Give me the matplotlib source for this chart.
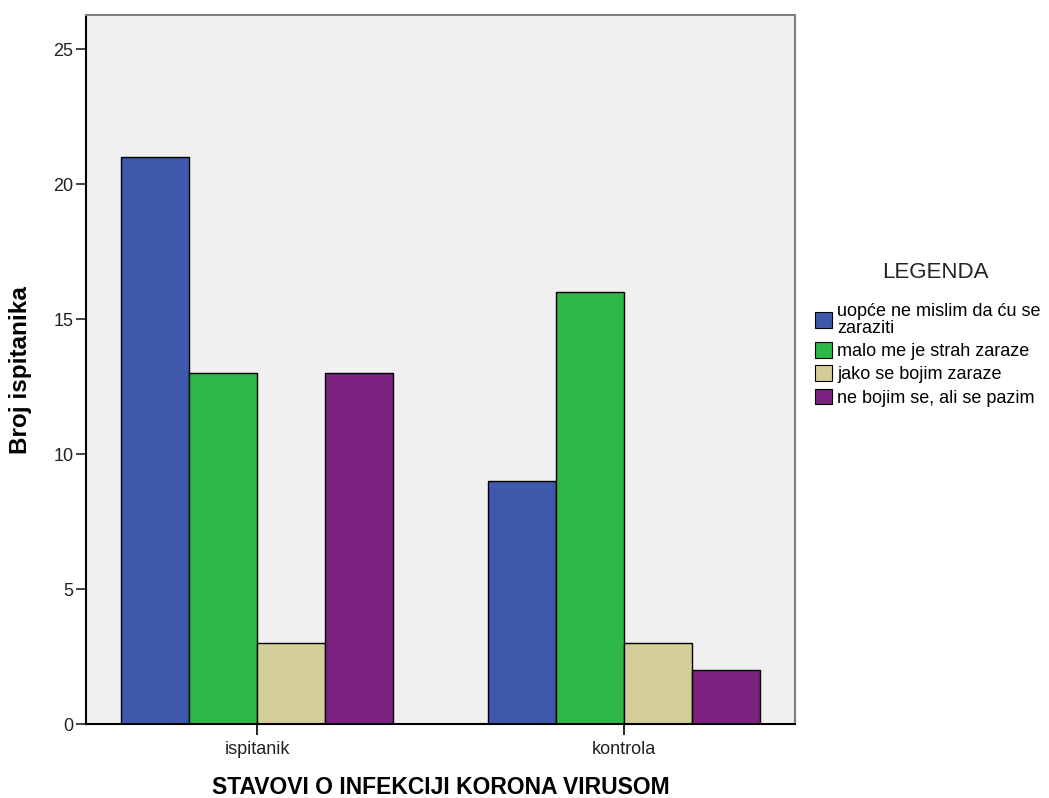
import numpy as np
import matplotlib.pyplot as plt

plt.rcParams['font.family'] = ['Liberation Sans', 'DejaVu Sans']

groups = ['ispitanik', 'kontrola']
categories = ['uopće ne mislim da ću se\nzaraziti', 'malo me je strah zaraze',
              'jako se bojim zaraze', 'ne bojim se, ali se pazim']
values = [[21, 9],   # uopće ne mislim
          [13, 16],  # malo me je strah
          [3, 3],    # jako se bojim
          [13, 2]]   # ne bojim se
colors = ['#3E58AC', '#2EB848', '#D3CE97', '#7B2281']

fig = plt.figure(figsize=(10.49, 7.98), dpi=100)
ax = fig.add_axes([0.082, 0.0927, 0.676, 0.888])
ax.set_facecolor('#F0F0F0')

x = np.arange(len(groups))
w = 0.1853
for i, (vals, c) in enumerate(zip(values, colors)):
    ax.bar(x + (i - 1.5) * w, vals, w, color=c, edgecolor='black', linewidth=1.0,
           label=categories[i], zorder=2)

ax.set_xlim(-0.466, 1.466)
ax.set_ylim(0, 26.26)
ax.set_yticks([0, 5, 10, 15, 20, 25])
ax.set_xticks(x)
ax.set_xticklabels(groups, fontsize=13, color='#222222')
ax.tick_params(axis='y', labelsize=13, colors='#222222', length=7, width=1.2,
               direction='out', pad=2)
ax.tick_params(axis='x', length=8, width=1.2, direction='out', pad=4)
for s in ['left', 'bottom']:
    ax.spines[s].set_linewidth(1.5)
for s in ['top', 'right']:
    ax.spines[s].set_color('#808080')
    ax.spines[s].set_linewidth(1.5)

ax.set_ylabel('Broj ispitanika', fontsize=17.5, fontweight='bold', va='center')
ax.yaxis.set_label_coords(-0.093, 0.5)
ax.set_xlabel('STAVOVI O INFEKCIJI KORONA VIRUSOM', fontsize=16.5, fontweight='bold',
              va='center')
ax.xaxis.set_label_coords(0.5, -0.09)

# legenda
fig.text(935 / 1049, 1 - 272 / 798, 'LEGENDA', fontsize=16, color='#222222',
         ha='center', va='center')
leg = fig.legend(*ax.get_legend_handles_labels(), loc='upper left',
                 bbox_to_anchor=(0.777, 0.620), frameon=False, fontsize=13,
                 handlelength=0.95, handleheight=0.95,
                 handletextpad=0.28, labelspacing=0.3, borderpad=0, borderaxespad=0)
leg.get_texts()[0].set_linespacing(0.95)
for h in leg.legend_handles:
    h.set_linewidth(0.8)

fig.savefig('out.png', dpi=100)
